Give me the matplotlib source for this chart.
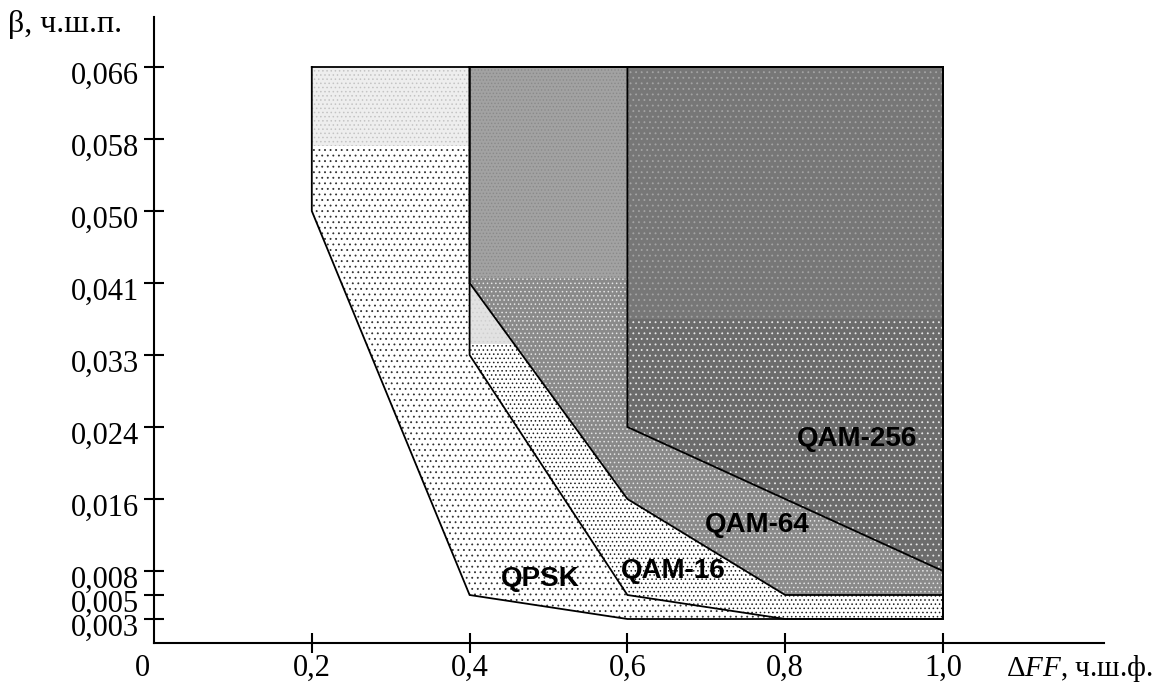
import numpy as np
import matplotlib
matplotlib.use("Agg")
import matplotlib.pyplot as plt
from matplotlib.patches import Polygon, Rectangle
from matplotlib.transforms import ScaledTranslation

plt.rcParams['font.family'] = ['Liberation Serif', 'DejaVu Serif']
plt.rcParams['mathtext.fontset'] = 'custom'
plt.rcParams['mathtext.rm'] = 'Liberation Serif'
plt.rcParams['mathtext.it'] = 'Liberation Serif:italic'
plt.rcParams['hatch.linewidth'] = 0.6

# ticks of the beta axis (the axis is drawn on an even grid, not linearly)
y_ticks = [0.003, 0.005, 0.008, 0.016, 0.024, 0.033, 0.041, 0.050, 0.058, 0.066]
y_labels = ['0,003', '0,005', '0,008', '0,016', '0,024', '0,033', '0,041', '0,050', '0,058', '0,066']
y_slots = [1, 2, 3, 6, 9, 12, 15, 18, 21, 24]
x_ticks = [0.2, 0.4, 0.6, 0.8, 1.0]
x_labels = ['0,2', '0,4', '0,6', '0,8', '1,0']

# borders of the regions (dFF, beta)
qpsk_x = [0.2, 0.2, 0.4, 0.6, 1.0, 1.0]
qpsk_y = [0.066, 0.050, 0.005, 0.003, 0.003, 0.066]
qam16_x = [0.4, 0.4, 0.6, 0.8, 1.0, 1.0]
qam16_y = [0.066, 0.033, 0.005, 0.003, 0.003, 0.066]
qam64_x = [0.4, 0.4, 0.6, 0.8, 1.0, 1.0]
qam64_y = [0.066, 0.041, 0.016, 0.005, 0.005, 0.066]
qam256_x = [0.6, 0.6, 1.0, 1.0]
qam256_y = [0.066, 0.024, 0.008, 0.066]

# the top part of every region has another shade in the original
split_beta = [0.0572, 0.0342, 0.0416, 0.0370]

names = ['QPSK', 'QAM-16', 'QAM-64', 'QAM-256']
name_x = [0.489, 0.658, 0.764, 0.891]
name_y = [0.0070, 0.0080, 0.0131, 0.0227]

# shades: (face, hatch, hatch colour) for lower and upper parts
lower_style = [('white', '...', '#303030'),
               ('white', '....', '#202020'),
               ('#8a8a8a', '....', '#e4e4e4'),
               ('#6c6c6c', '...', '#e6e6e6')]
upper_style = [('#eeeeee', '....', '#c4c4c4'),
               ('#e2e2e2', '....', '#cfcfcf'),
               ('#a2a2a2', '.....', '#8a8a8a'),
               ('#777777', '...', '#a4a4a4')]

sv = np.array([0.0] + y_ticks + [0.074])
sp = np.array([0.0] + y_slots + [27.0])


def fwd(v):
    return np.interp(v, sv, sp)


def inv(p):
    return np.interp(p, sp, sv)


fig = plt.figure(figsize=(11.61, 6.84), dpi=100)
ax = fig.add_axes([154 / 1161, 41 / 684, 950 / 1161, 626 / 684])
ax.set_yscale('function', functions=(fwd, inv))
ax.set_xlim(0, 950 / 789)
ax.set_ylim(0, inv(626 / 24))

regions = [(qpsk_x, qpsk_y), (qam16_x, qam16_y), (qam64_x, qam64_y), (qam256_x, qam256_y)]
for i, (xs, ys) in enumerate(regions):
    face, hatch, hc = lower_style[i]
    p = Polygon(np.column_stack([xs, ys]), closed=True, facecolor=face, edgecolor=hc,
                hatch=hatch, linewidth=0, zorder=1 + 2 * i)
    ax.add_patch(p)
    face, hatch, hc = upper_style[i]
    r = Rectangle((0, split_beta[i]), 1.2, 0.07 - split_beta[i], facecolor=face, edgecolor=hc,
                  hatch=hatch, linewidth=0, zorder=2 + 2 * i)
    ax.add_patch(r)
    r.set_clip_path(p)

for xs, ys in regions:
    ax.plot(xs + [xs[0]], ys + [ys[0]], color='black', lw=1.3, zorder=10,
            solid_joinstyle='miter')

for n, tx, ty in zip(names, name_x, name_y):
    ax.text(tx, ty, n, family='Liberation Sans', weight='bold', fontsize=20,
            ha='center', va='center', zorder=12)

for s in ['top', 'right']:
    ax.spines[s].set_visible(False)
for s in ['left', 'bottom']:
    ax.spines[s].set_linewidth(1.5)

ax.set_xticks(x_ticks)
ax.set_xticklabels(x_labels)
ax.set_yticks(y_ticks)
ax.set_yticklabels(y_labels)
ax.minorticks_off()
ax.tick_params(direction='inout', length=14.4, width=1.5, labelsize=22, pad=3.5)
ax.tick_params(axis='x', pad=0.5)

off = ScaledTranslation(0, -4 / 72, fig.dpi_scale_trans)
for lab in ax.get_yticklabels():
    lab.set_transform(lab.get_transform() + off)

ax.annotate('0', xy=(0, 0), xytext=(-8.6, -18), textcoords='offset points',
            ha='center', va='center', fontsize=22)

fig.text(8 / 1161, 1 - 32 / 684, 'β, ч.ш.п.', fontsize=23, va='baseline')
fig.text(1006 / 1161, 1 - 668 / 684, r'Δ$\mathit{FF}$, ч.ш.ф.', fontsize=21, va='center')

fig.savefig('out.png', dpi=100)
